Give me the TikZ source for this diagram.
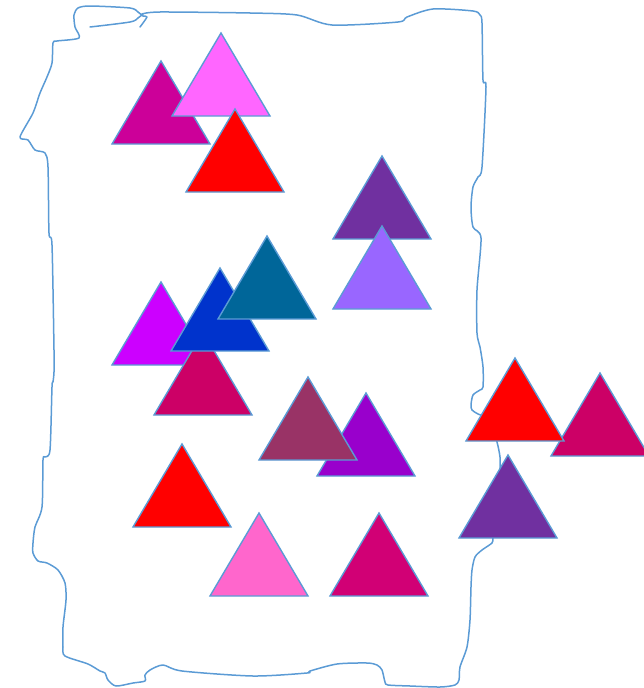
\documentclass[tikz,border=0pt]{standalone}
\definecolor{edge}{HTML}{5B9BD5}
\definecolor{cA}{HTML}{CC0099}
\definecolor{cB}{HTML}{FF66FF}
\definecolor{cRed}{HTML}{FF0000}
\definecolor{cPur}{HTML}{7030A0}
\definecolor{cLav}{HTML}{9966FF}
\definecolor{cTeal}{HTML}{006699}
\definecolor{cVio}{HTML}{CC00FF}
\definecolor{cBlue}{HTML}{0033CC}
\definecolor{cCrim}{HTML}{CC0066}
\definecolor{cMauve}{HTML}{993366}
\definecolor{cPur2}{HTML}{9900CC}
\definecolor{cPink}{HTML}{FF66CC}
\definecolor{cCrim2}{HTML}{D10075}
\tikzset{
  outline/.style={draw=edge, line width=1.5pt, line join=round, line cap=round},
  tri/.style={draw=edge, line width=1.4pt, line join=miter}
}
\newcommand\tri[3]{\filldraw[tri, fill=#3] (#1,#2) -- ++(49,83) -- ++(-98,0) -- cycle;}
\begin{document}
\begin{tikzpicture}[x=1pt,y=-1pt]
\useasboundingbox (0,0) rectangle (644,688);
% outline
\draw[outline] plot[smooth, tension=0.45] coordinates {
 (142,14) (160,12) (250,13) (297,15) (332,25) (398,22) (407,17) (433,9) (473,11) (480,15) (482,23)
 (483,80) (486,87) (482,167) (478,177) (473,187) (471,207) (473,227) (481,238) (477,290) (477,333)
 (480,347) (483,367) (483,387) (480,390) (473,395) (471,405) (472,410) (478,414) (490,420)
 (497,442) (500,457) (500,470) (498,500) (495,525) (493,538) (492,543) (482,550) (475,557) (472,570) (471,587)
 (470,620) (467,647) (460,667) (459,680) (455,685) (440,687) (410,686) (388,685) (385,682) (382,670)
 (377,665) (367,663) (337,664) (310,671) (307,673) (253,676) (182,671) (163,665) (150,670) (145,675)
 (145,681) (133,683) (116,686) (108,680) (105,673) (100,671) (88,664) (65,656) (63,647) (63,627) (66,600)
 (65,583) (58,570) (47,563) (38,561) (33,553) (33,543) (35,527) (42,507) (43,460) (45,457) (50,450)
 (52,387) (53,382) (54,372) (54,350) (52,245) (49,233) (48,167) (45,153) (35,150) (28,140) (20,137)
 (33,113) (40,93) (47,77) (52,63) (53,43) (57,41) (79,38) (75,27) (74,15) (78,8) (90,6) (130,8) (138,12)
 (143,16) (147,17) (140,27)};
\draw[outline] plot[smooth, tension=0.5] coordinates {(90,27) (130,22) (138,18) (143,14)};
% triangles
\tri{161}{61}{cA}
\tri{221}{33}{cB}
\tri{235}{109}{cRed}
\tri{382}{156}{cPur}
\tri{382}{226}{cLav}
\tri{161}{282}{cVio}
\tri{203}{332}{cCrim}
\tri{220}{268}{cBlue}
\tri{267}{236}{cTeal}
\tri{366}{393}{cPur2}
\tri{308}{377}{cMauve}
\tri{182}{444}{cRed}
\tri{259}{513}{cPink}
\tri{379}{513}{cCrim2}
\tri{600}{373}{cCrim}
\tri{515}{358}{cRed}
\tri{508}{455}{cPur}
\end{tikzpicture}
\end{document}
